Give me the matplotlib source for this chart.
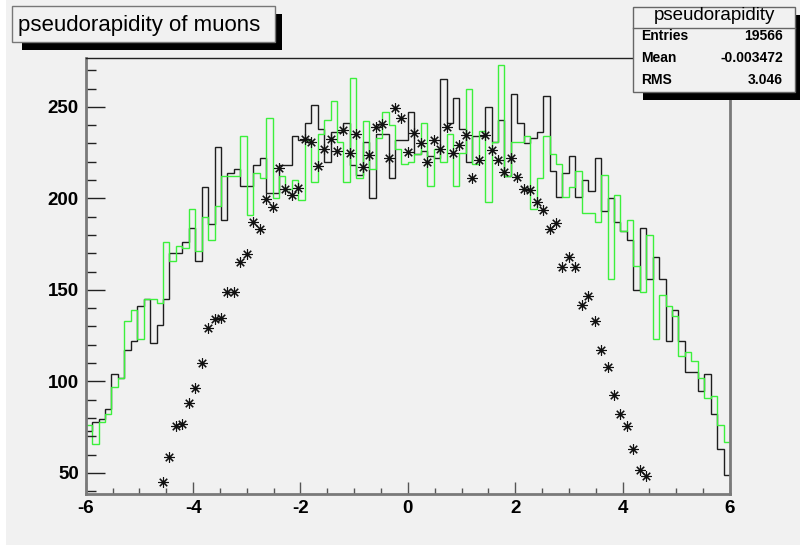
import numpy as np
import matplotlib
matplotlib.use('Agg')
from matplotlib import pyplot as plt
from matplotlib.patches import Rectangle
from matplotlib.ticker import MultipleLocator

# 100 bins from -6 to 6
bin_edges = np.linspace(-6, 6, 101)

black_counts = [73, 78, 79.5, 85, 104, 102, 117, 122, 141, 145,
                121, 131, 145, 170, 170, 176, 184, 166, 206, 186,
                228, 188, 214, 216, 207, 207, 218, 222, 203, 203,
                218, 218, 234, 232, 241, 251, 238, 220, 236, 236,
                241, 218, 213, 231, 200, 235, 235, 211, 232, 232,
                247, 224, 226, 223, 222, 265, 241, 255, 238, 220,
                234, 234, 250, 231, 243, 212, 257, 241, 230, 233,
                236, 256, 215, 201, 214, 223, 201, 210, 204, 222,
                193, 200, 187, 182, 177, 150, 184, 156, 168, 156,
                122, 139, 122, 105, 105, 95, 104, 82, 63, 49]

green_counts = [76, 66, 78, 82, 97, 102, 133, 139, 123, 145,
                145, 143, 176, 166, 174, 173, 194, 171, 190, 177,
                196, 212, 212, 212, 234, 191, 214, 211, 244, 200,
                212, 205, 210, 199, 232, 209, 235, 243, 253, 231,
                209, 266, 211, 242, 216, 233, 247, 240, 227, 219,
                220, 224, 241, 207, 227, 220, 235, 207, 225, 260,
                219, 237, 198, 231, 273, 212, 231, 231, 234, 194,
                211, 234, 224, 219, 201, 206, 215, 192, 192, 187,
                213, 156, 202, 182, 188, 163, 149, 180, 123, 147,
                141, 136, 114, 116, 111, 102, 91, 92, 76, 67]

# star markers sit on the bin edges from -4.56 to 4.44
star_x = bin_edges[12:88]
star_counts = [45, 58.8, 75.7, 77, 88.4, 96.4, 110, 129, 134.3, 134.9,
               148.8, 148.8, 165, 169.6, 186.9, 183.1, 199.7, 195.1, 216.7, 204.9,
               201.8, 205.5, 232.4, 230.6, 217.7, 226.9, 232.2, 225.8, 237.1, 224.9,
               235.1, 216.9, 223.7, 238.7, 240.6, 222.2, 249.1, 244, 225.5, 235.8,
               230, 220, 231.8, 226.7, 238.7, 224.8, 228.9, 234.6, 211, 221,
               234.8, 226.6, 221, 214.6, 221.8, 211.7, 204.9, 204.7, 198.2, 193.4,
               183.1, 186.4, 162.6, 167.8, 162.7, 141.5, 146.4, 132.8, 116.9, 107.9,
               92.8, 82.4, 75.5, 63.1, 51.8, 48.2]

W, H = 800, 547
bg = '#f1f1f1'
plt.rcParams['font.family'] = ['Liberation Sans', 'DejaVu Sans']
plt.rcParams['axes.unicode_minus'] = False


def fx(x):
    return x / W


def fy(y):
    return 1 - y / H


fig = plt.figure(figsize=(8, 5.47), dpi=100, facecolor='white')
fig.patches.append(Rectangle((fx(6), fy(545)), 1, 1, transform=fig.transFigure,
                             facecolor=bg, edgecolor='none', zorder=-10))

ax = fig.add_axes([fx(85.7), fy(494), (730 - 85.7) / W, (494 - 58.3) / H])
ax.set_facecolor(bg)

ax.stairs(black_counts, bin_edges, color='#1e1e1e', lw=1.0, baseline=None)
ax.stairs(green_counts, bin_edges, color='#3cf03c', lw=1.0, baseline=None)
ax.plot(star_x, star_counts, ls='none', marker=(8, 2, 0), ms=7.5, mew=0.8,
        color='#111111')

ax.set_xlim(-6, 6)
ax.set_ylim(38.5, 276.5)
ax.xaxis.set_major_locator(MultipleLocator(2))
ax.xaxis.set_minor_locator(MultipleLocator(0.5))
ax.yaxis.set_major_locator(MultipleLocator(50))
ax.yaxis.set_minor_locator(MultipleLocator(10))

ax.tick_params(axis='x', which='major', direction='in', length=8.6, width=1,
               color='#555555', pad=4, labelsize=13.5)
ax.tick_params(axis='x', which='minor', direction='in', length=4.3, width=1,
               color='#555555')
ax.tick_params(axis='y', which='major', direction='in', length=13.7, width=1,
               color='#222222', pad=5, labelsize=13.5)
ax.tick_params(axis='y', which='minor', direction='in', length=7, width=1,
               color='#222222')
for lab in ax.get_xticklabels() + ax.get_yticklabels():
    lab.set_fontweight('bold')

ax.spines['top'].set_color('#222222')
ax.spines['top'].set_linewidth(1)
for s in ['bottom', 'left', 'right']:
    ax.spines[s].set_color('#7a7a7a')
    ax.spines[s].set_linewidth(2)

# title box with shadow
fig.patches.append(Rectangle((fx(22), fy(50)), fx(282 - 22), (50 - 14) / H,
                             transform=fig.transFigure, facecolor='black',
                             edgecolor='none', zorder=5))
fig.patches.append(Rectangle((fx(12), fy(42)), fx(275 - 12), (42 - 6) / H,
                             transform=fig.transFigure, facecolor=bg,
                             edgecolor='#777777', lw=1, zorder=6))
fig.text(fx(18), fy(25), 'pseudorapidity of muons', fontsize=16,
         ha='left', va='center', zorder=7)

# stats box with shadow
fig.patches.append(Rectangle((fx(643), fy(100)), fx(800 - 643), (100 - 15) / H,
                             transform=fig.transFigure, facecolor='black',
                             edgecolor='none', zorder=5))
fig.patches.append(Rectangle((fx(633), fy(92)), fx(795 - 633), (92 - 7) / H,
                             transform=fig.transFigure, facecolor=bg,
                             edgecolor='#666666', lw=1, zorder=6))
fig.lines.append(plt.Line2D([fx(633), fx(795)], [fy(28), fy(28)],
                            transform=fig.transFigure, color='#666666',
                            lw=1, zorder=7))
fig.text(fx(714), fy(16), 'pseudorapidity', fontsize=13.5, ha='center',
         va='center', zorder=7)
stat_names = ['Entries', 'Mean', 'RMS']
stat_values = ['19566', '-0.003472', '3.046']
for i, (name, val) in enumerate(zip(stat_names, stat_values)):
    yy = [36, 58, 80][i]
    fig.text(fx(641), fy(yy), name, fontsize=10, fontweight='bold',
             ha='left', va='center', zorder=7)
    fig.text(fx(783), fy(yy), val, fontsize=10, fontweight='bold',
             ha='right', va='center', zorder=7)

fig.savefig('out.png', dpi=100, facecolor=fig.get_facecolor())
